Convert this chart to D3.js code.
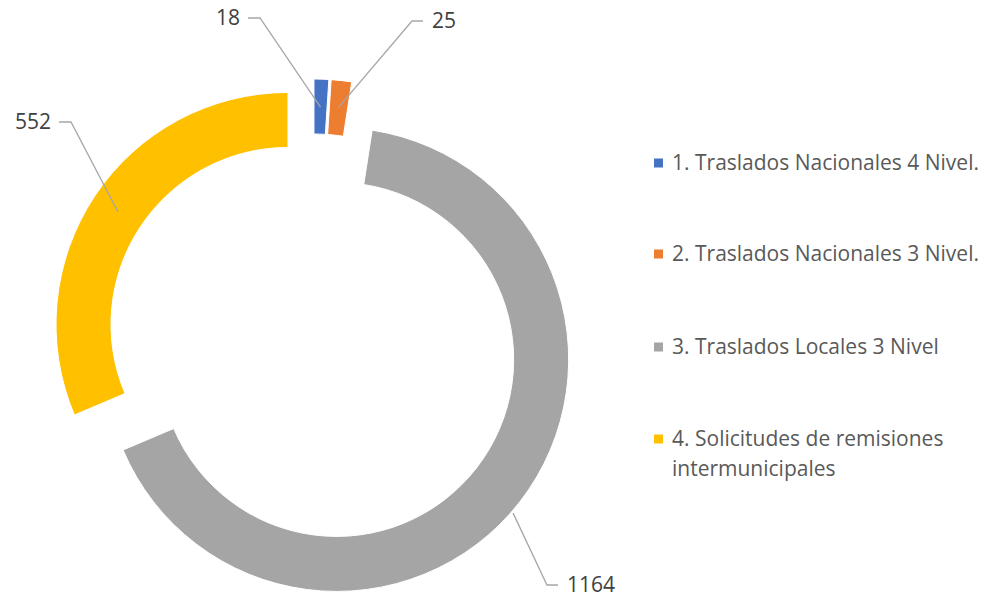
<!DOCTYPE html>
<html>
<head>
<meta charset="utf-8">
<script src="https://cdn.jsdelivr.net/npm/d3@7"></script>
<style>
  body { margin: 0; background: #fff; }
  svg text { font-family: "Open Sans", "Noto Sans", sans-serif; }
</style>
</head>
<body>
<div id="chart"></div>
<script>
var categories = [
    "1. Traslados Nacionales 4 Nivel.",
    "2. Traslados Nacionales 3 Nivel.",
    "3. Traslados Locales 3 Nivel",
    "4. Solicitudes de remisiones intermunicipales"
];
var values = [18, 25, 1164, 552];
var colors = ["#4472C4", "#ED7D31", "#A5A5A5", "#FFC000"];

var width = 983, height = 597;
var cx = 313, cy = 341;
var outerR = 232, innerR = 177, explode = 30;

var svg = d3.select("#chart")
    .append("svg")
    .attr("width", width)
    .attr("height", height);

var pie = d3.pie().sort(null).value(function(d){ return d; });
var arcs = pie(values);

var arc = d3.arc().innerRadius(innerR).outerRadius(outerR);

var g = svg.append("g")
    .attr("transform", "translate(" + cx + "," + cy + ")");

function offset(d){
    var a = (d.startAngle + d.endAngle) / 2;
    return [Math.sin(a) * explode, -Math.cos(a) * explode];
}

g.selectAll(".slice")
    .data(arcs)
    .enter()
    .append("path")
    .attr("class", "slice")
    .attr("d", arc)
    .attr("fill", function(d, i){ return colors[i]; })
    .attr("stroke", "#fff")
    .attr("stroke-width", 1)
    .attr("transform", function(d){
        var o = offset(d);
        return "translate(" + o[0] + "," + o[1] + ")";
    });

// label placement (layout only): text anchor point, side, radius/angle tweak for leader start
var labelPos = [
    {x: 240, y: 18, anchor: "end", r: 204, da: 0},
    {x: 432, y: 21, anchor: "start", r: 205, da: 0},
    {x: 567, y: 585, anchor: "start", r: 234, da: 0.055},
    {x: 51, y: 122, anchor: "end", r: 204, da: 0}
];

var labels = svg.append("g");

arcs.forEach(function(d, i){
    var p = labelPos[i];
    var o = offset(d);
    var a = (d.startAngle + d.endAngle) / 2 + p.da;
    var sx = cx + o[0] + Math.sin(a) * p.r;
    var sy = cy + o[1] - Math.cos(a) * p.r;
    var ex = p.x + (p.anchor == "end" ? 8 : -9);
    var kx = ex + (p.anchor == "end" ? 12 : -11);

    labels.append("polyline")
        .attr("points", [[sx, sy], [kx, p.y], [ex, p.y]].map(function(q){ return q.join(","); }).join(" "))
        .attr("fill", "none")
        .attr("stroke", "#A6A6A6")
        .attr("stroke-width", 1.3);

    labels.append("text")
        .attr("x", p.x)
        .attr("y", p.y)
        .attr("dy", "0.35em")
        .attr("text-anchor", p.anchor)
        .style("font-size", "21px")
        .style("fill", "#404040")
        .text(d3.format("d")(values[i]));
});

// legend
var legendY = [163, 254, 347, 439];
var legend = svg.append("g");

categories.forEach(function(c, i){
    legend.append("rect")
        .attr("x", 654)
        .attr("y", legendY[i] - 4.5)
        .attr("width", 9)
        .attr("height", 9)
        .attr("fill", colors[i]);

    var t = legend.append("text")
        .attr("x", 672)
        .attr("y", legendY[i])
        .attr("dy", "0.35em")
        .style("font-size", "21px")
        .style("fill", "#595959");

    if(i == 3){
        t.append("tspan").attr("x", 672).text("4. Solicitudes de remisiones");
        t.append("tspan").attr("x", 672).attr("dy", "1.4em").text("intermunicipales");
    }
    else{
        t.text(c);
    }
});
</script>
</body>
</html>
